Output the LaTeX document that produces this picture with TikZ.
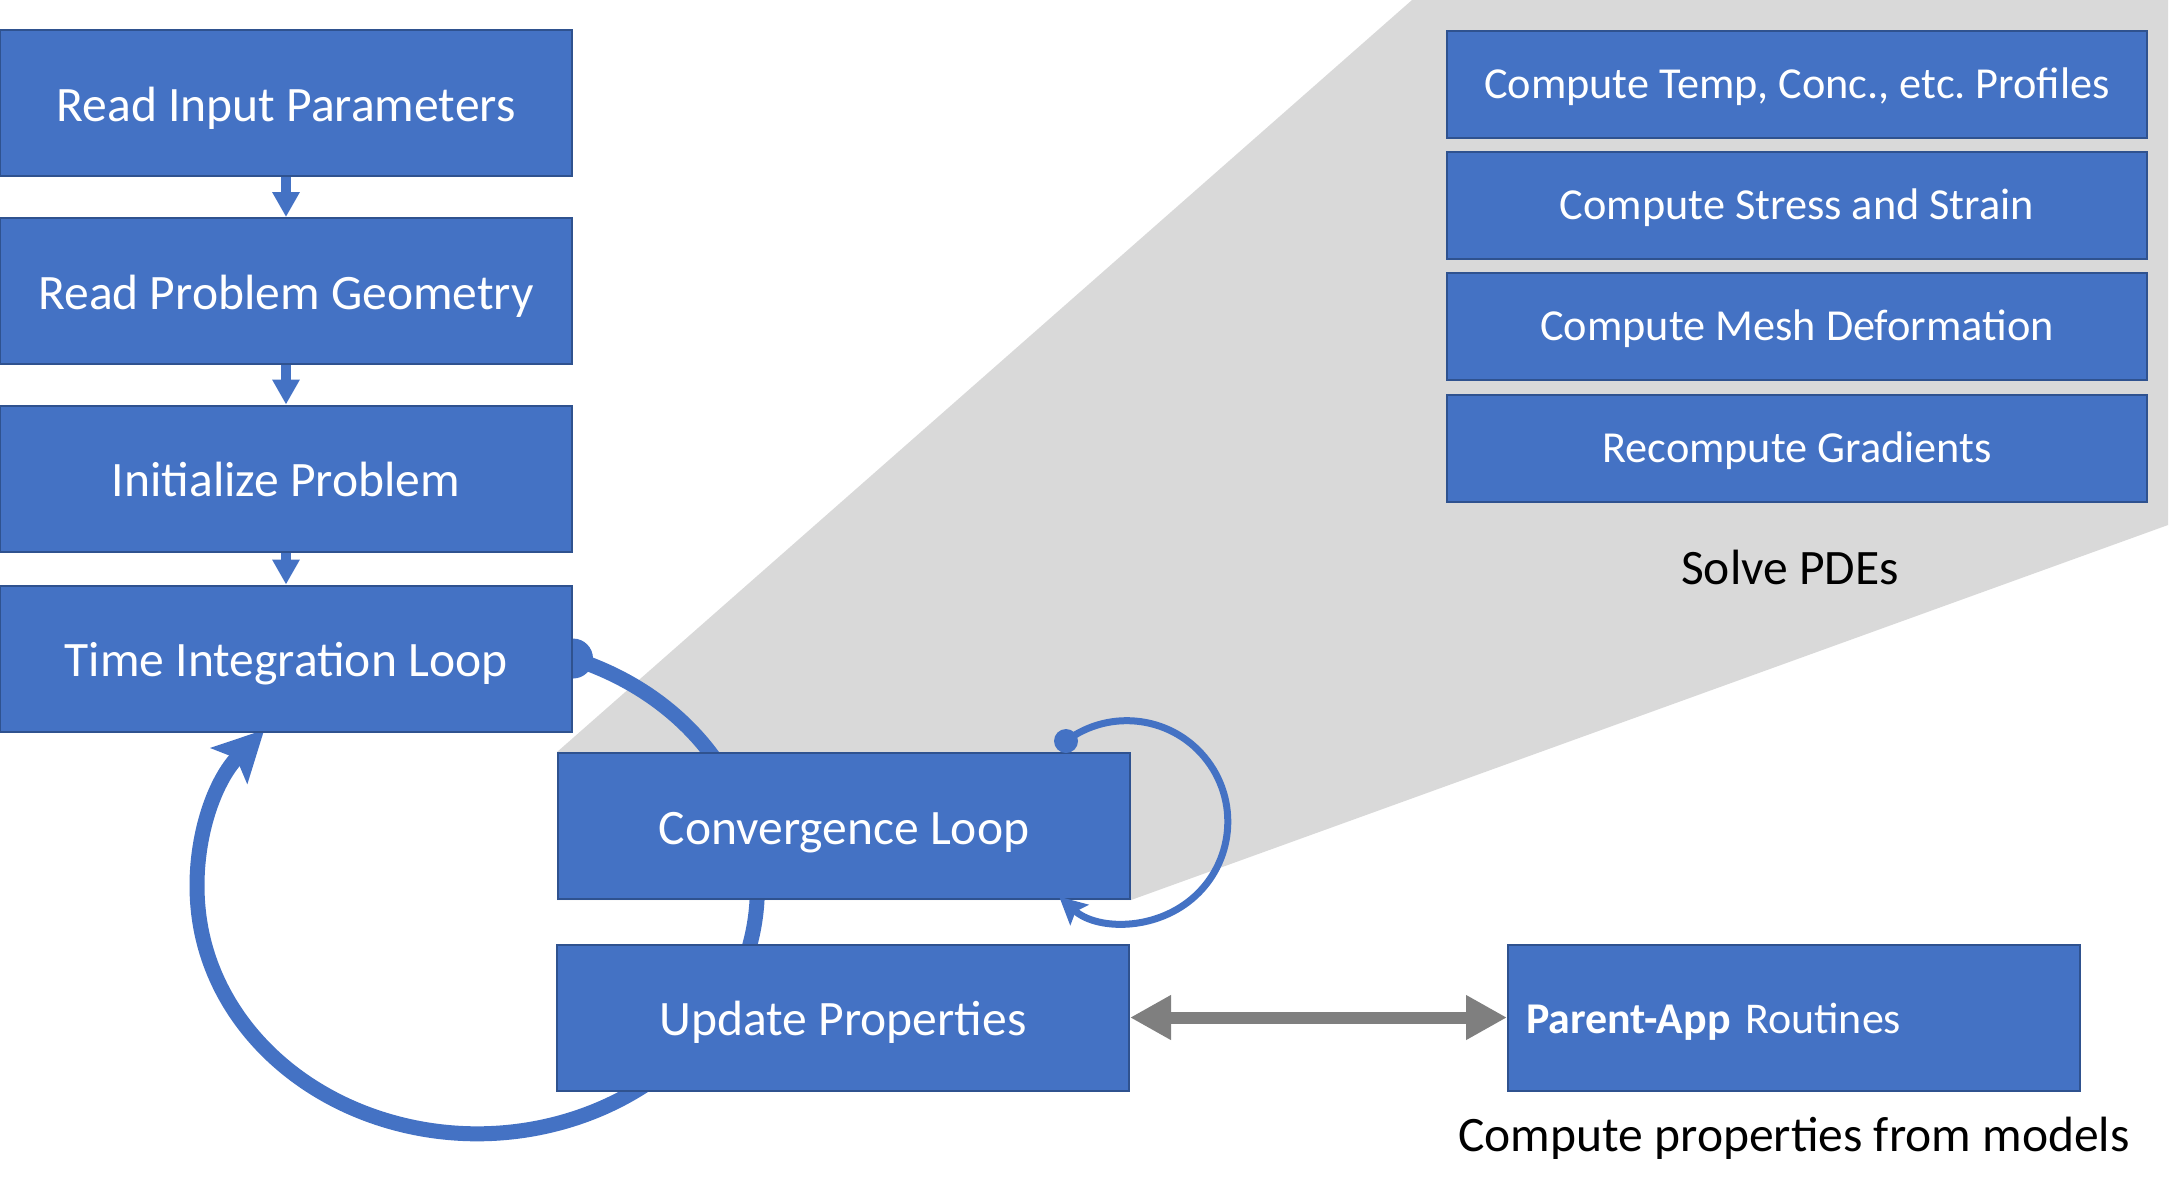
\documentclass[tikz,border=0pt]{standalone}
\usepackage{fontspec}
\setmainfont{Carlito}
\usepackage{tikz}
\usepackage{xcolor}
\usetikzlibrary{positioning}
\usetikzlibrary{arrows.meta}
\usetikzlibrary{math}
\usetikzlibrary{calc}
\usetikzlibrary{backgrounds}
\frenchspacing

\definecolor{boxblue}{HTML}{4472C4}
\definecolor{boxedge}{HTML}{2F528F}
\definecolor{wedgegray}{HTML}{D9D9D9}
\definecolor{linkgray}{HTML}{7F7F7F}

\begin{document}
\begin{tikzpicture}[line width=0.20mm,
  flowbox/.style={draw=boxedge, fill=boxblue, text=white, inner sep=0pt,
    minimum width=\boxw cm, minimum height=\boxh cm,
    text height=0.41cm, text depth=0.05cm,
    font=\fontsize{14.1pt}{17pt}\selectfont},
  pdebox/.style={flowbox, minimum width=\pdew cm, minimum height=\pdeh cm,
    text height=0.34cm, text depth=0.05cm,
    font=\fontsize{12.6pt}{15pt}\selectfont},
  caption/.style={text=black, inner sep=0pt, font=\fontsize{14.1pt}{17pt}\selectfont},
  downarrow/.style={draw=boxblue, line width=0.10cm,
    -{Triangle[length=0.25cm,width=0.26cm]}},
  bigloop/.style={draw=boxblue, line width=0.15cm,
    -{Stealth[length=0.50cm,width=0.50cm,inset=0.10cm]}},
  smallloop/.style={draw=boxblue, line width=0.07cm,
    -{Stealth[length=0.27cm,width=0.27cm,inset=0.05cm]}},
  graylink/.style={draw=linkgray, line width=0.12cm,
    {Triangle[length=0.41cm,width=0.42cm]}-{Triangle[length=0.41cm,width=0.42cm]}}]

  \tikzmath{
    \boxw   = 5.72; % width of the flow boxes
    \boxh   = 1.46; % height of the flow boxes
    \pdew   = 7.00; % width of the PDE boxes
    \pdeh   = 1.07; % height of the PDE boxes
    \rxbig  = 2.80; % x radius of the time loop
    \rybig  = 2.45; % y radius of the time loop
    \rsmall = 1.01; % radius of the convergence loop
    \dotbig = 0.20; % dot at start of the time loop
    \dotsml = 0.12; % dot at start of the convergence loop
  }

  \useasboundingbox (0,0) rectangle (21.72,-11.94);

  % main flow on the left
  \node[flowbox] (read) at (2.86,-1.03)  {Read Input Parameters};
  \node[flowbox] (geom) at (2.86,-2.91)  {Read Problem Geometry};
  \node[flowbox] (init) at (2.86,-4.785) {Initialize Problem};
  \node[flowbox] (time) at (2.86,-6.585) {Time Integration Loop};

  \draw[downarrow] (read.south) -- (geom.north);
  \draw[downarrow] (geom.south) -- (init.north);
  \draw[downarrow] (init.south) -- (time.north);

  % inner loop boxes
  \node[flowbox] (conv)   at (8.44,-8.26)   {Convergence Loop};
  \node[flowbox] (update) at (8.43,-10.175) {Update Properties};

  % PDE steps
  \node[pdebox] (temp)   at (17.97,-0.84) {Compute Temp, Conc., etc. Profiles};
  \node[pdebox] (stress) at (17.97,-2.05) {Compute Stress and Strain};
  \node[pdebox] (mesh)   at (17.97,-3.26) {Compute Mesh Deformation};
  \node[pdebox] (grad)   at (17.97,-4.48) {Recompute Gradients};
  \node[caption] (solve) at (17.90,-5.67) {Solve PDEs};

  % parent application
  \node[flowbox, text width=\boxw cm - 0.36cm, inner xsep=0.18cm, align=left,
    text height=0.36cm, font=\fontsize{12.5pt}{15pt}\selectfont]
    (parent) at (17.94,-10.175) {\textbf{Parent-App} Routines};
  \node[caption] (models) at (17.94,-11.38) {Compute properties from models};

  \draw[graylink] (update.east) -- (parent.west);

  % zoom wedge and time loop, behind the boxes
  \begin{scope}[on background layer]
    \fill[wedgegray] (conv.north west) -- (14.12,0) -- (21.68,0) -- (21.68,-5.25)
      -- (conv.south east) -- (conv.south west) -- cycle;
    \fill[boxblue] (time.east) circle [radius=\dotbig];
    \draw[bigloop] (time.east)
      arc [start angle=70, end angle=-220.5, x radius=\rxbig, y radius=\rybig];
  \end{scope}

  % convergence loop
  \coordinate (loopstart) at ($ (conv.north east) + (-0.65, 0.11) $);
  \fill[boxblue] (loopstart) circle [radius=\dotsml];
  \draw[smallloop] (loopstart) arc [start angle=127, end angle=-132, radius=\rsmall];

\end{tikzpicture}
\end{document}
